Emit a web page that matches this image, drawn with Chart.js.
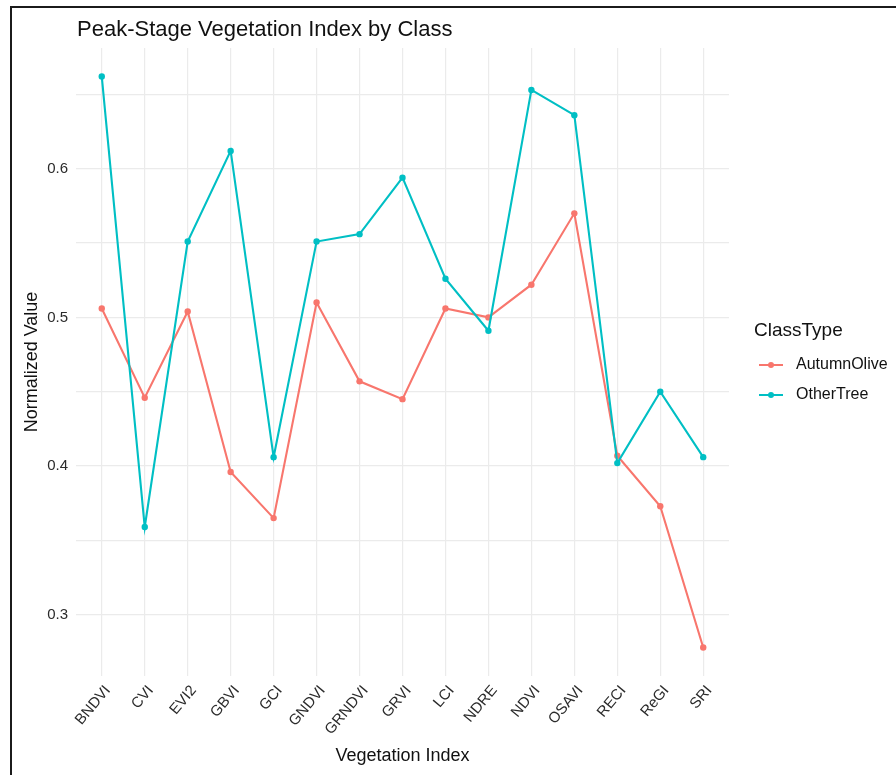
<!DOCTYPE html>
<html><head><meta charset="utf-8">
<script src="https://cdn.jsdelivr.net/npm/chart.js@4"></script>
<style>
html,body{margin:0;padding:0;background:#fff;overflow:hidden;}
#wrap{position:relative;width:896px;height:775px;overflow:hidden;}
#frame{position:absolute;left:10px;top:6px;width:900px;height:800px;border-left:2px solid #1b1b1b;border-top:2px solid #1b1b1b;pointer-events:none;}
</style></head><body>
<div id="wrap"><canvas id="c" width="896" height="775"></canvas><div id="frame"></div></div>
<script>
const categories = ['BNDVI','CVI','EVI2','GBVI','GCI','GNDVI','GRNDVI','GRVI','LCI','NDRE','NDVI','OSAVI','RECI','ReGI','SRI'];
const autumnOlive = [0.506,0.446,0.504,0.396,0.365,0.510,0.457,0.445,0.506,0.500,0.522,0.570,0.407,0.373,0.278];
const otherTree   = [0.662,0.359,0.551,0.612,0.406,0.551,0.556,0.594,0.526,0.491,0.653,0.636,0.402,0.450,0.406];
const seriesNames = ['AutumnOlive','OtherTree'];
const yTickLabels = [0.3,0.4,0.5,0.6];
const yMinorTicks = [0.35,0.45,0.55,0.65];
const chartTitle = 'Peak-Stage Vegetation Index by Class';
const xTitle = 'Vegetation Index';
const yTitle = 'Normalized Value';
const legendTitle = 'ClassType';

const FONT = '"Liberation Sans", Arial, sans-serif';
const colors = ['#F8766D','#00BFC4'];

const decor = {
  id:'decor',
  afterDraw(chart){
    const ctx = chart.ctx;
    ctx.save();
    ctx.fillStyle = '#111';
    ctx.textBaseline = 'alphabetic';
    ctx.textAlign = 'left';
    ctx.font = '22px ' + FONT;
    ctx.fillText(chartTitle, 77, 36);
    ctx.textBaseline = 'middle';
    ctx.font = '19px ' + FONT;
    ctx.fillText(legendTitle, 754, 331);
    chart.data.datasets.forEach((ds,i)=>{
      const y = 365 + 30*i;
      ctx.strokeStyle = ds.borderColor; ctx.lineWidth = 2;
      ctx.beginPath(); ctx.moveTo(759,y); ctx.lineTo(783,y); ctx.stroke();
      ctx.fillStyle = ds.borderColor;
      ctx.beginPath(); ctx.arc(771,y,3,0,Math.PI*2); ctx.fill();
      ctx.fillStyle = '#111';
      ctx.font = '16px ' + FONT;
      ctx.fillText(ds.label, 796, y);
    });
    ctx.restore();
  }
};

const seriesValues = [autumnOlive, otherTree];
new Chart(document.getElementById('c'), {
  type:'line',
  data:{
    datasets: seriesNames.map((name,i)=>({
      label:name,
      data: seriesValues[i].map((v,j)=>({x:j,y:v})),
      borderColor: colors[i], backgroundColor: colors[i],
      pointBackgroundColor: colors[i], pointBorderWidth:0,
      borderWidth:2.1, pointRadius:3.2, tension:0, fill:false,
      order: i===0 ? 1 : 0
    }))
  },
  options:{
    responsive:false, animation:false, devicePixelRatio:1,
    layout:{padding:{left:15,right:167,top:48,bottom:4}},
    plugins:{legend:{display:false}, title:{display:false}, tooltip:{enabled:false}},
    scales:{
      x:{type:'linear', min:-0.6, max:14.6,
        afterBuildTicks: s => { s.ticks = categories.map((c,i)=>({value:i})); },
        afterFit: s => { s.height = 95; },
        grid:{color:'#ebebeb', lineWidth:1.2, drawTicks:false},
        border:{display:false},
        ticks:{autoSkip:false, minRotation:50, maxRotation:50, padding:6, labelOffset:6, color:'#2b2b2b',
          font:{family:FONT, size:15}, callback: v => categories[v] ?? ''},
        title:{display:true, text:xTitle, color:'#111', font:{family:FONT, size:18}, padding:{top:0,bottom:4}}
      },
      y:{type:'linear', min:0.2588, max:0.6812,
        afterBuildTicks: s => { s.ticks = [...yTickLabels, ...yMinorTicks].sort((a,b)=>a-b).map(v=>({value:v})); },
        afterFit: s => { s.width = 61; },
        grid:{color:'#ebebeb', lineWidth:1.2, drawTicks:false},
        border:{display:false},
        ticks:{autoSkip:false, padding:8, color:'#2b2b2b', font:{family:FONT, size:15},
          callback: v => yTickLabels.includes(v) ? v.toFixed(1) : ''},
        title:{display:true, text:yTitle, color:'#111', font:{family:FONT, size:18}, padding:{top:6,bottom:0}}
      }
    }
  },
  plugins:[decor]
});
</script>
</body></html>
